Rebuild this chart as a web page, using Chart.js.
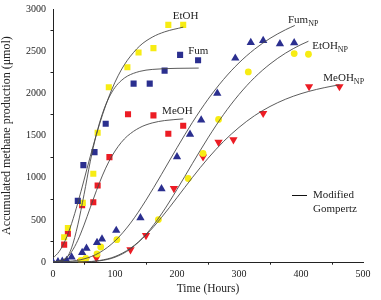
<!DOCTYPE html>
<html>
<head>
<meta charset="utf-8">
<script src="https://cdn.jsdelivr.net/npm/chart.js@4/dist/chart.umd.min.js"></script>
<style>
  html, body { margin: 0; padding: 0; background: #fff; }
  #wrap { width: 381px; height: 300px; }
</style>
</head>
<body>
<div id="wrap"><canvas id="methaneChart" width="381" height="300"></canvas></div>
<script>
// measured points (time in hours, methane in umol)
const fumT = [40, 49, 67, 85, 130, 156, 180, 205, 234];
const fumY = [727, 1150, 1304, 1641, 2116, 2116, 2270, 2456, 2393];
const etohT = [18, 24, 48, 65, 72, 90, 120, 138, 162, 186, 210];
const etohY = [295, 406, 703, 1047, 1534, 2072, 2310, 2484, 2536, 2812, 2812];
const meohT = [18, 24, 47, 65, 72, 91, 121, 162, 186, 210];
const meohY = [208, 338, 675, 710, 908, 1245, 1752, 1740, 1522, 1617];
const fumNpT = [0, 8, 15, 22, 30, 47, 54, 71, 79, 102, 141, 175, 200, 221, 239, 265, 294, 319, 339, 366, 389];
const fumNpY = [0, 5, 10, 20, 60, 115, 165, 232, 275, 376, 525, 869, 1249, 1514, 1684, 2001, 2417, 2603, 2627, 2587, 2599];
const etohNpT = [45, 53, 71, 77, 103, 170, 218, 242, 267, 315, 389, 412];
const etohNpY = [20, 45, 97, 180, 267, 505, 992, 1289, 1692, 2254, 2472, 2464];
const meohNpT = [45, 53, 70, 125, 150, 195, 242, 267, 291, 339, 413, 462];
const meohNpY = [10, 30, 50, 148, 318, 875, 1249, 1423, 1451, 1764, 2081, 2081];

// Modified Gompertz fitted curves
const fitEtohT = [0, 10, 20, 30, 40, 50, 60, 70, 80, 90, 100, 110, 120, 140, 160, 180, 210];
const fitEtohY = [49, 127, 262, 458, 702, 973, 1250, 1513, 1750, 1958, 2133, 2277, 2393, 2563, 2666, 2729, 2785];
const fitFumT = [0, 20, 30, 40, 50, 60, 70, 80, 90, 100, 110, 120, 140, 160, 200, 235];
const fitFumY = [0, 37, 170, 442, 800, 1189, 1516, 1766, 1946, 2071, 2151, 2205, 2261, 2284, 2297, 2300];
const fitMeohT = [0, 20, 30, 40, 50, 60, 70, 80, 90, 100, 110, 120, 140, 160, 180, 210];
const fitMeohY = [2, 44, 124, 259, 440, 644, 847, 1032, 1190, 1317, 1418, 1495, 1595, 1650, 1678, 1698];
const fitFumNpT = [0, 25, 50, 75, 100, 125, 150, 175, 200, 225, 250, 275, 300, 325, 350, 375, 390];
const fitFumNpY = [2, 9, 39, 113, 252, 463, 735, 1041, 1356, 1658, 1930, 2165, 2362, 2523, 2652, 2754, 2805];
const fitEtohNpT = [0, 50, 75, 100, 125, 150, 175, 200, 225, 250, 275, 300, 325, 350, 375, 400, 412];
const fitEtohNpY = [0, 3, 16, 59, 158, 330, 572, 862, 1171, 1473, 1749, 1987, 2187, 2348, 2477, 2578, 2618];
const fitMeohNpT = [0, 50, 75, 100, 125, 150, 175, 200, 225, 250, 275, 300, 325, 350, 375, 400, 425, 450, 462];
const fitMeohNpY = [0, 4, 20, 67, 166, 323, 530, 765, 1005, 1231, 1430, 1597, 1736, 1845, 1931, 1997, 2047, 2086, 2101];

const xTicks = [0, 100, 200, 300, 400, 500];
const yTicks = [0, 500, 1000, 1500, 2000, 2500, 3000];

const NAVY = '#2b2f8f';
const YELLOW = '#f7ec13';
const RED = '#ec1c24';
const FIT = '#4a4a4a';
const FONT = '"Liberation Serif", "DejaVu Serif", serif';

function zip(ts, ys) {
    return ts.map((t, i) => ({ x: t, y: ys[i] }));
}

function pointSet(label, ts, ys, color, style, radius, rotation) {
    return {
        label: label,
        data: zip(ts, ys),
        backgroundColor: color,
        borderColor: color,
        borderWidth: 0,
        pointStyle: style,
        pointRadius: radius,
        pointRotation: rotation || 0,
        showLine: false
    };
}

function fitSet(label, ts, ys) {
    return {
        type: 'line',
        label: label,
        data: zip(ts, ys),
        borderColor: FIT,
        borderWidth: 0.9,
        pointRadius: 0,
        fill: false,
        cubicInterpolationMode: 'monotone'
    };
}

const datasets = [
    fitSet('fit EtOH', fitEtohT, fitEtohY),
    fitSet('fit Fum', fitFumT, fitFumY),
    fitSet('fit MeOH', fitMeohT, fitMeohY),
    fitSet('fit FumNP', fitFumNpT, fitFumNpY),
    fitSet('fit EtOHNP', fitEtohNpT, fitEtohNpY),
    fitSet('fit MeOHNP', fitMeohNpT, fitMeohNpY),
    pointSet('Fum', fumT, fumY, NAVY, 'rect', 4.3),
    pointSet('EtOH', etohT, etohY, YELLOW, 'rect', 4.3),
    pointSet('MeOH', meohT, meohY, RED, 'rect', 4.3),
    pointSet('FumNP', fumNpT, fumNpY, NAVY, 'triangle', 4.8),
    pointSet('EtOHNP', etohNpT, etohNpY, YELLOW, 'circle', 3.4),
    pointSet('MeOHNP', meohNpT, meohNpY, RED, 'triangle', 4.8, 180)
];

// series names placed next to their curves (data coordinates)
const seriesLabels = [
    { text: 'EtOH', sub: '', x: 193, y: 2885 },
    { text: 'Fum', sub: '', x: 218, y: 2470 },
    { text: 'MeOH', sub: '', x: 176, y: 1755 },
    { text: 'Fum', sub: 'NP', x: 379, y: 2830 },
    { text: 'EtOH', sub: 'NP', x: 418, y: 2530 },
    { text: 'MeOH', sub: 'NP', x: 436, y: 2150 }
];

const annotatePlugin = {
    id: 'annotate',
    afterDraw(chart) {
        const ctx = chart.ctx;
        const xs = chart.scales.x;
        const ys = chart.scales.y;
        const area = chart.chartArea;
        ctx.save();
        ctx.fillStyle = '#222';
        ctx.textBaseline = 'alphabetic';
        ctx.textAlign = 'left';
        seriesLabels.forEach(l => {
            const px = xs.getPixelForValue(l.x);
            const py = ys.getPixelForValue(l.y);
            ctx.font = '11px ' + FONT;
            ctx.fillText(l.text, px, py);
            if (l.sub) {
                const w = ctx.measureText(l.text).width;
                ctx.font = '8px ' + FONT;
                ctx.fillText(l.sub, px + w, py + 3);
            }
        });

        // minor ticks
        ctx.strokeStyle = '#222';
        ctx.lineWidth = 1;
        for (let v = 50; v < 500; v += 100) {
            const px = Math.round(xs.getPixelForValue(v)) + 0.5;
            ctx.beginPath();
            ctx.moveTo(px, area.bottom);
            ctx.lineTo(px, area.bottom + 2.5);
            ctx.stroke();
        }
        for (let v = 250; v < 3000; v += 500) {
            const py = Math.round(ys.getPixelForValue(v)) + 0.5;
            ctx.beginPath();
            ctx.moveTo(area.left, py);
            ctx.lineTo(area.left - 2.5, py);
            ctx.stroke();
        }

        // legend
        const lx = area.left + 239;
        const ly = area.top + 186;
        ctx.beginPath();
        ctx.moveTo(lx, ly + 0.5);
        ctx.lineTo(lx + 15, ly + 0.5);
        ctx.strokeStyle = '#111';
        ctx.stroke();
        ctx.font = '11px ' + FONT;
        ctx.textBaseline = 'middle';
        ctx.fillText('Modified', lx + 21, ly);
        ctx.fillText('Gompertz', lx + 21, ly + 14);
        ctx.restore();
    }
};

const ctx = document.getElementById('methaneChart').getContext('2d');
new Chart(ctx, {
    type: 'scatter',
    data: { datasets },
    plugins: [annotatePlugin],
    options: {
        responsive: false,
        animation: false,
        layout: { padding: { top: 6, right: 18, bottom: 0, left: 0 } },
        scales: {
            x: {
                type: 'linear',
                min: 0,
                max: 500,
                afterBuildTicks: (scale) => { scale.ticks = xTicks.map(v => ({ value: v })); },
                grid: { display: false, drawTicks: true, tickLength: 4, tickColor: '#222' },
                border: { display: true, color: '#222', width: 1 },
                ticks: {
                    color: '#222', padding: 2, maxRotation: 0,
                    font: { family: FONT, size: 10 },
                    callback: (v) => String(v)
                },
                title: {
                    display: true,
                    text: 'Time (Hours)',
                    color: '#222',
                    padding: { top: 0, bottom: 4 },
                    font: { family: FONT, size: 11.5 }
                }
            },
            y: {
                type: 'linear',
                min: 0,
                max: 3000,
                afterBuildTicks: (scale) => { scale.ticks = yTicks.map(v => ({ value: v })); },
                afterFit: (scale) => { scale.width = 53; },
                grid: { display: false, drawTicks: true, tickLength: 4, tickColor: '#222' },
                border: { display: true, color: '#222', width: 1 },
                ticks: {
                    color: '#222', padding: 3,
                    font: { family: FONT, size: 10 },
                    callback: (v) => String(v)
                },
                title: {
                    display: true,
                    text: 'Accumulated methane production (\u03bcmol)',
                    color: '#222',
                    padding: { top: 0, bottom: 1 },
                    font: { family: FONT, size: 12 }
                }
            }
        },
        plugins: {
            legend: { display: false },
            tooltip: { enabled: false }
        }
    }
});
</script>
</body>
</html>
